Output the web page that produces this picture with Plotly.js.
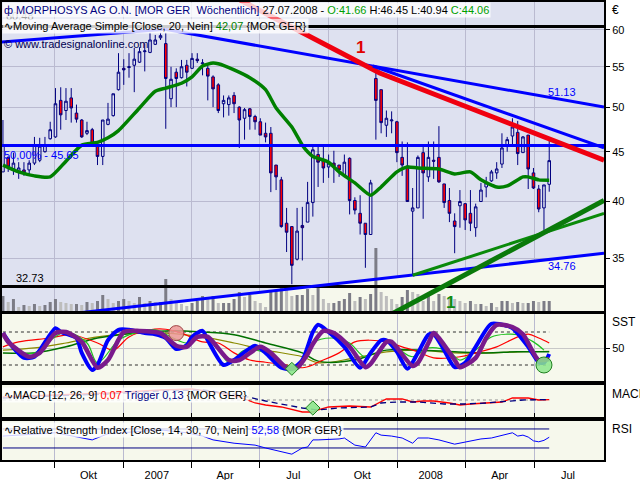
<!DOCTYPE html>
<html><head><meta charset="utf-8">
<script src="https://cdn.plot.ly/plotly-3.0.1.min.js"></script>
<style>html,body{margin:0;padding:0;background:#fff}#chart{width:640px;height:480px}</style>
</head><body><div id="chart"></div>
<script>
// ---- weekly bars (Monday of each week) ----
const dates = [
'2006-07-24','2006-07-31','2006-08-07','2006-08-14','2006-08-21','2006-08-28','2006-09-04','2006-09-11','2006-09-18','2006-09-25',
'2006-10-02','2006-10-09','2006-10-16','2006-10-23','2006-10-30','2006-11-06','2006-11-13','2006-11-20','2006-11-27','2006-12-04',
'2006-12-11','2006-12-18','2006-12-25','2007-01-01','2007-01-08','2007-01-15','2007-01-22','2007-01-29','2007-02-05','2007-02-12',
'2007-02-19','2007-02-26','2007-03-05','2007-03-12','2007-03-19','2007-03-26','2007-04-02','2007-04-09','2007-04-16','2007-04-23',
'2007-04-30','2007-05-07','2007-05-14','2007-05-21','2007-05-28','2007-06-04','2007-06-11','2007-06-18','2007-06-25','2007-07-02',
'2007-07-09','2007-07-16','2007-07-23','2007-07-30','2007-08-06','2007-08-13','2007-08-20','2007-08-27','2007-09-03','2007-09-10',
'2007-09-17','2007-09-24','2007-10-01','2007-10-08','2007-10-15','2007-10-22','2007-10-29','2007-11-05','2007-11-12','2007-11-19',
'2007-11-26','2007-12-03','2007-12-10','2007-12-17','2007-12-24','2007-12-31','2008-01-07','2008-01-14','2008-01-21','2008-01-28',
'2008-02-04','2008-02-11','2008-02-18','2008-02-25','2008-03-03','2008-03-10','2008-03-17','2008-03-24','2008-03-31','2008-04-07',
'2008-04-14','2008-04-21','2008-04-28','2008-05-05','2008-05-12','2008-05-19','2008-05-26','2008-06-02','2008-06-09','2008-06-16',
'2008-06-23','2008-06-30','2008-07-07','2008-07-14','2008-07-21'];
const open = [42.9,44.4,43.2,42.9,43.1,43.1,43.8,44.1,45.0,46.4, 46.6,50.8,49.6,51.1,49.3,48.5,47.0,47.4,45.7,44.5,
48.0,49.0,52.1,54.8,54.9,55.2,55.6,57.0,56.9,58.0, 58.9,58.1,51.0,54.3,53.6,55.2,54.8,56.0,55.4,54.8,
53.7,52.7,50.4,50.3,51.4,50.0,48.7,49.8,48.9,48.3, 47.0,47.0,43.6,42.1,38.0,37.7,34.9,37.8,38.1,39.9,
44.7,44.1,43.4,43.8,43.6,42.6,44.3,40.1,38.9,38.0, 37.0,53.5,52.1,47.9,48.4,48.3,44.4,43.5,39.1,39.4,
44.9,42.4,44.1,44.4,41.7,40.1,38.2,39.6,39.8,38.9, 37.6,40.0,41.4,42.0,42.8,43.7,45.7,46.7,47.1,44.9,
46.8,42.8,41.2,39.4,41.66];
const high = [48.5,44.5,44.9,43.9,43.9,44.1,46.6,46.5,46.6,48.3, 52.3,52.4,52.3,52.3,50.3,48.6,48.3,47.6,45.9,48.5,
50.5,51.6,56.8,56.0,56.8,57.5,57.6,58.1,59.6,59.3, 59.6,59.6,55.0,54.8,55.9,55.9,56.8,56.8,56.0,55.2,
53.9,52.9,51.4,51.4,51.8,50.1,49.9,49.9,49.1,48.7, 48.2,47.7,43.6,42.4,39.4,37.7,39.4,39.5,41.9,45.5,
45.5,45.5,44.7,45.1,43.6,44.7,44.4,40.4,40.6,38.0, 42.1,54.8,52.1,49.6,49.5,48.4,46.1,46.0,41.3,44.6,
45.5,46.1,46.1,47.8,41.7,41.3,38.9,41.1,39.8,41.1, 39.8,41.8,42.4,43.1,43.9,47.0,46.6,48.7,48.4,46.7,
46.8,43.3,41.6,41.6,46.45];
const low = [42.9,42.9,42.6,42.2,42.5,42.5,43.6,43.9,44.9,46.3, 46.5,47.4,48.5,48.2,48.2,46.5,46.8,45.7,43.6,43.6,
47.9,48.9,52.0,52.7,53.6,51.8,55.5,54.4,56.8,57.9, 58.6,47.5,50.0,50.0,53.5,52.5,54.7,55.5,53.9,50.8,
50.0,49.3,48.8,49.0,49.3,45.4,46.3,47.4,47.4,46.8, 46.0,40.9,41.1,37.6,35.5,32.9,34.8,34.8,38.1,38.6,
41.4,41.8,42.3,41.8,42.4,42.6,38.8,38.8,37.0,34.2, 37.0,46.3,47.0,46.6,47.0,43.9,42.5,40.0,33.6,39.4,
38.4,41.9,42.2,41.8,39.4,38.1,35.4,37.6,37.4,37.3, 36.8,40.0,40.4,41.9,42.2,43.3,45.0,45.5,43.6,44.9,
41.2,41.2,39.0,37.4,40.94];
const close = [45.7,43.4,43.8,43.3,42.8,43.8,45.7,45.6,45.7,47.4, 50.4,49.1,50.7,49.9,48.6,46.6,47.3,45.9,44.5,48.5,
48.6,51.6,54.3,54.6,55.0,56.0,57.0,57.1,58.6,58.6, 59.2,53.5,53.4,53.5,55.0,54.3,56.1,55.8,55.5,53.8,
52.2,49.6,50.8,51.1,50.4,48.5,49.7,48.9,48.3,46.8, 46.6,42.8,42.4,37.7,37.2,34.4,37.3,37.6,39.9,45.2,
43.9,43.3,43.8,43.5,43.1,43.9,40.1,39.2,38.0,37.0, 41.8,50.8,48.2,48.7,48.5,44.9,43.6,40.0,39.4,44.4,
42.8,44.4,44.0,41.9,39.9,38.9,37.7,40.0,38.3,38.0, 39.5,41.1,41.8,42.9,43.2,45.4,46.3,47.7,44.8,46.6,
43.2,41.3,39.3,41.6,44.06];
const volume = [15,9,12,4,6,5,7,5,6,9, 12,9,8,7,7,6,9,8,10,16, 12,8,10,12,10,8,14,8,10,9,
9,32,12,8,7,5,8,10,15,12, 15,8,8,8,12,19,14,16,10,8, 4,19,20,25,22,15,16,16,22,16,
24,12,8,8,10,12,18,10,14,12, 17,63,19,15,12,7,14,21,19,17, 10,15,10,17,15,14,12,10,8,10,
7,7,5,8,4,10,10,8,9,8, 8,10,9,10,10];

// 20-week simple moving average
const maIdx = [0,3,6,9,12,15,18,20,22,26,29,31,34,36,38,40,41,44,47,50,52,55,57,58,59,62,64,67,70,72,75,77,79,83,86,89,91,94,96,99,100,102,104];
const maVal = [43.6,42.9,42.5,42.4,44.0,45.7,46.0,46.5,47.3,49.9,51.9,52.3,52.9,53.7,55.1,55.5,55.4,54.6,53.6,52.1,49.9,47.7,45.7,45.0,44.5,43.9,42.9,41.8,40.6,41.4,42.9,43.4,43.3,43.2,42.7,42.9,42.1,41.4,41.5,42.4,42.4,42.1,42.07];

// price levels and trend lines
const levelHigh = 60.48, levelMid = 45.65, levelLow = 32.73;
const levelX = ['2006-07-20','2008-10-05'];
const upLeftX = ['2006-07-20','2007-02-25'], upLeftY = [58.3,60.1];
const trendAX = ['2007-02-25','2008-10-02'], trendAY = [60.1,50.0];
const trendBX = ['2007-11-29','2008-10-02'], trendBY = [55.1,45.4];
const redX = ['2007-06-05','2007-12-08','2008-10-02'], redY = [64.4,54.2,44.1];
const supportX = ['2006-07-20','2008-10-02'], supportY = [30.1,35.4];
const g1X = ['2008-01-21','2008-10-02'], g1Y = [33.6,38.9];
const g2X = ['2007-12-22','2008-10-02'], g2Y = [30.6,40.1];

// SST panel
const sstBlueIdx = [0,2,4,6,10,11,14,15,17,18,20,22,24,27,29,31,33,35,36,38,39,42,44,48,50,53,55,57,59,60,62,65,68,70,72,73,75,77,79,81,82,84,86,88,90,93,96,97,100,102,103,104];
const sstBlueVal = [78,51,33,35,87,80,69,42,11,20,65,84,84,78,76,69,49,56,71,82,65,20,29,55,42,15,13,29,80,93,80,53,15,42,65,65,44,13,42,75,76,47,16,24,53,95,91,87,53,25,24,40];
const sstPurpleIdx = [0,1,5,7,10,12,15,18,20,23,26,30,33,35,37,39,43,45,49,51,54,56,58,59,61,63,66,69,70,73,74,78,79,81,82,83,86,87,90,92,94,97,99,101,102,104];
const sstPurpleVal = [78,62,35,42,78,80,62,15,29,80,82,78,55,53,71,71,29,29,53,42,15,15,40,58,82,78,53,16,22,62,62,18,24,60,78,69,29,16,33,69,93,89,76,42,29,31];
const sstRedIdx = [0,3,9,13,18,21,24,28,31,34,38,41,44,47,50,54,57,59,60,64,67,70,73,76,79,82,87,90,94,98,100,102,104];
const sstRedVal = [53,62,69,75,60,47,71,84,85,78,62,60,42,29,25,20,15,20,25,42,62,65,62,53,44,33,35,42,53,71,76,69,60];
const sstGreenIdx = [0,3,6,9,12,16,18,22,25,29,32,35,38,40,43,46,50,53,57,59,63,66,69,72,75,78,81,85,87,90,93,96,98,101,103];
const sstGreenVal = [71,44,42,65,80,60,24,65,78,84,71,60,75,65,25,47,42,20,24,60,69,60,35,65,51,35,51,44,29,47,71,76,75,62,47];
const sstOliveIdx = [0,6,12,18,25,31,38,44,50,57,60,67,73,79,86,92,98,104];
const sstOliveVal = [47,51,60,71,78,78,71,60,47,35,24,33,44,47,42,42,44,45];
const sstDkGreenIdx = [0,6,12,18,25,31,38,44,50,57,60,67,73,79,86,92,98,104];
const sstDkGreenVal = [42,42,53,69,78,82,80,75,60,42,27,29,47,47,44,42,44,44];
const sstUpper = 80, sstLower = 20;
const sstSignalIdx = [33], sstSignalVal = [78];
const sstBuyIdx = [55], sstBuyVal = [13];
const sstBuy2Idx = [103], sstBuy2Val = [20];

// MACD panel
const macdIdx = [0,10,20,30,36,40,45,48,50,53,57,59,60,62,66,70,73,76,78,80,82,85,87,89,92,95,97,100,102,104];
const macdVal = [0.75,1.25,1.75,2.5,2.75,2.0,0.75,-0.75,-1.25,-1.75,-3.0,-3.0,-2.5,-1.75,-1.5,-1.75,0.25,0.25,-0.5,-0.25,-0.25,-0.75,-1.25,-1.0,-0.75,-0.5,0.5,0.5,0.0,0.07];
const trigIdx = [0,10,20,30,38,44,48,50,53,57,60,64,70,72,75,79,84,88,92,96,99,104];
const trigVal = [0.5,1.0,1.5,2.25,2.5,1.5,0.25,-0.25,-1.0,-2.0,-2.5,-2.0,-1.75,-0.75,-0.5,-0.5,-1.0,-1.0,-0.75,-0.25,0.0,0.13];
const macdSigIdx = [59], macdSigVal = [-2.0];

// RSI panel
const rsiIdx = [0,10,17,20,30,35,38,40,44,48,50,53,55,57,58,59,60,64,65,67,69,71,72,74,76,78,79,81,83,86,88,91,93,95,97,98,99,100,101,102,103,104];
const rsiVal = [55,62,47,60,68,62,55,47,40,36,30,22,17,30,32,47,47,49,51,36,32,62,57,55,51,40,51,51,47,38,43,49,51,57,62,55,57,53,45,43,46,52.58];
const rsiUpper = 70, rsiLower = 30;

// axis labels
const priceTicks = [35,40,45,50,55,60];
const quarterStarts = ['2006-10-01','2007-01-01','2007-04-01','2007-07-01','2007-10-01','2008-01-01','2008-04-01','2008-07-01'];
const quarterMids = ['2006-11-15','2007-02-14','2007-05-16','2007-08-15','2007-11-15','2008-02-14','2008-05-16','2008-08-15'];
const quarterLabels = ['Okt','2007','Apr','Jul','Okt','2008','Apr','Jul'];

// ---- build ----
const X = idx => idx.map(i => dates[i]);
const first = dates[0], last = dates[dates.length-1];
const volColors = volume.map((v,i) => (i===0 || v >= volume[i-1]) ? '#7c7c86' : '#bdbdbd');
const FONT = 'Liberation Sans, Arial, sans-serif';

const traces = [
  // cream area under the support line (base price axis)
  {x: supportX, y:[20,20], yaxis:'y', mode:'lines', line:{width:0}, hoverinfo:'skip'},
  {x: supportX, y: supportY, yaxis:'y', mode:'lines', line:{width:0}, fill:'tonexty', fillcolor:'#f6f8ec', hoverinfo:'skip'},
  // volume
  {type:'bar', x: dates, y: volume, yaxis:'y5', marker:{color: volColors, line:{width:0}}, width: 4*86400000, hoverinfo:'skip'},
  // candles
  {type:'candlestick', x: dates, open: open, high: high, low: low, close: close, yaxis:'y6',
   increasing:{line:{color:'#000080', width:1}, fillcolor:'rgba(255,255,255,0)'},
   decreasing:{line:{color:'#000080', width:1}, fillcolor:'#ff0000'}, whiskerwidth:0, hoverinfo:'skip'},
  // moving average
  {x: X(maIdx), y: maVal, yaxis:'y6', mode:'lines', line:{color:'#008000', width:3.5, shape:'spline', smoothing:0.6}},
  // levels
  {x: levelX, y:[levelHigh, levelHigh], yaxis:'y6', mode:'lines', line:{color:'#000000', width:3}},
  {x: levelX, y:[levelLow, levelLow], yaxis:'y6', mode:'lines', line:{color:'#000000', width:3}},
  {x: levelX, y:[levelMid, levelMid], yaxis:'y6', mode:'lines', line:{color:'#0000ff', width:3}},
  // trend lines
  {x: upLeftX, y: upLeftY, yaxis:'y6', mode:'lines', line:{color:'#0000ff', width:3}},
  {x: trendAX, y: trendAY, yaxis:'y6', mode:'lines', line:{color:'#0000ff', width:3}},
  {x: redX, y: redY, yaxis:'y6', mode:'lines', line:{color:'#f00010', width:5}},
  {x: trendBX, y: trendBY, yaxis:'y6', mode:'lines', line:{color:'#0000ff', width:3}},
  {x: supportX, y: supportY, yaxis:'y6', mode:'lines', line:{color:'#0000ff', width:3}},
  {x: g1X, y: g1Y, yaxis:'y6', mode:'lines', line:{color:'#0a8a0a', width:3}},
  {x: g2X, y: g2Y, yaxis:'y6', mode:'lines', line:{color:'#0a7a0a', width:5}},
  // SST
  {x:[first,last], y:[sstUpper,sstUpper], yaxis:'y2', mode:'lines', line:{color:'#303030', width:1.2, dash:'dot'}},
  {x:[first,last], y:[sstLower,sstLower], yaxis:'y2', mode:'lines', line:{color:'#303030', width:1.2, dash:'dot'}},
  {x: X(sstOliveIdx), y: sstOliveVal, yaxis:'y2', mode:'lines', line:{color:'#8a8a00', width:1.2, shape:'spline'}},
  {x: X(sstDkGreenIdx), y: sstDkGreenVal, yaxis:'y2', mode:'lines', line:{color:'#007000', width:1.5, shape:'spline'}},
  {x: X(sstRedIdx), y: sstRedVal, yaxis:'y2', mode:'lines', line:{color:'#ff0000', width:1.2, shape:'spline'}},
  {x: X(sstGreenIdx), y: sstGreenVal, yaxis:'y2', mode:'lines', line:{color:'#20c020', width:1.2, shape:'spline'}},
  {x: X(sstBlueIdx), y: sstBlueVal, yaxis:'y2', mode:'lines', line:{color:'#0000ff', width:4, shape:'spline', smoothing:0.7}},
  {x: X(sstPurpleIdx), y: sstPurpleVal, yaxis:'y2', mode:'lines', line:{color:'#7a1a8c', width:4.5, shape:'spline', smoothing:0.7}},
  {x: X(sstSignalIdx), y: sstSignalVal, yaxis:'y2', mode:'markers', marker:{size:15, color:'rgba(236,150,150,0.85)', line:{color:'#a04848', width:1}}},
  {x: X(sstBuyIdx), y: sstBuyVal, yaxis:'y2', mode:'markers', marker:{size:10, symbol:'diamond', color:'rgba(140,230,140,0.9)', line:{color:'#208020', width:1}}},
  {x: X(sstBuy2Idx), y: sstBuy2Val, yaxis:'y2', mode:'markers', marker:{size:16, color:'rgba(140,230,140,0.85)', line:{color:'#208020', width:1}}},
  // MACD
  {x:[first,last], y:[0,0], yaxis:'y3', mode:'lines', line:{color:'#909090', width:1, dash:'dot'}},
  {x: X(macdIdx), y: macdVal, yaxis:'y3', mode:'lines', line:{color:'#ff0000', width:1.3}},
  {x: X(trigIdx), y: trigVal, yaxis:'y3', mode:'lines', line:{color:'#000080', width:1.3, dash:'6px,4px'}},
  {x: X(macdSigIdx), y: macdSigVal, yaxis:'y3', mode:'markers', marker:{size:11, symbol:'diamond', color:'rgba(140,230,140,0.9)', line:{color:'#208020', width:1}}},
  // RSI
  {x:[first,last], y:[rsiUpper,rsiUpper], yaxis:'y4', mode:'lines', line:{color:'#000080', width:1}},
  {x:[first,last], y:[rsiLower,rsiLower], yaxis:'y4', mode:'lines', line:{color:'#000080', width:1}},
  {x: X(rsiIdx), y: rsiVal, yaxis:'y4', mode:'lines', line:{color:'#0000ff', width:1}}
];
traces.forEach(t => { t.xaxis = 'x'; if (!t.hoverinfo) t.hoverinfo = 'skip'; });

const D = {main:[0.3253,1], sst:[0.1725,0.3188], macd:[0.0939,0.1638], rsi:[0,0.0852]};
const priceRange = [Math.log10(30.88), Math.log10(64.1)];
const frame = {showline:true, mirror:true, linecolor:'#000', linewidth:2, zeroline:false};
const tf = {family:FONT, size:11, color:'#000'};

const layout = {
  width:640, height:480, margin:{l:2, r:36, t:2, b:20},
  paper_bgcolor:'#ffffff', plot_bgcolor:'rgba(0,0,0,0)', showlegend:false, hovermode:false,
  font:{family:FONT, size:11, color:'#000'},
  xaxis:{type:'date', range:['2006-07-22 18:00','2008-10-02'], anchor:'y4',
    tickmode:'array', tickvals: quarterMids, ticktext: quarterLabels, ticks:'outside', ticklen:4, tickcolor:'rgba(0,0,0,0)',
    showgrid:false, tickfont:tf,
    minor:{tickvals: quarterStarts, ticks:'outside', ticklen:6, tickcolor:'#000', tickwidth:1, showgrid:true, gridcolor:'#babad0', gridwidth:1},
    showline:true, mirror:'all', linecolor:'#000', linewidth:2, zeroline:false, rangeslider:{visible:false}},
  yaxis: Object.assign({domain:D.main, type:'log', range:priceRange, side:'right', tickmode:'array', tickvals:priceTicks, ticktext:priceTicks.map(String),
    ticks:'outside', ticklen:4, tickcolor:'#000', showgrid:true, gridcolor:'#babad0', tickfont:tf}, frame),
  yaxis2: Object.assign({domain:D.sst, range:[-9.1,112.7], side:'right', tickmode:'array', tickvals:[50], ticks:'outside', ticklen:4, tickcolor:'#000',
    showgrid:true, gridcolor:'#c8c8c8', tickfont:tf}, frame),
  yaxis3: Object.assign({domain:D.macd, range:[-4.25,3.75], side:'right', showticklabels:false, ticks:'', showgrid:false}, frame),
  yaxis4: Object.assign({domain:D.rsi, range:[4.7,86.8], side:'right', showticklabels:false, ticks:'', showgrid:false}, frame),
  yaxis5: {overlaying:'y', range:[0,309], visible:false},
  yaxis6: {overlaying:'y', type:'log', range:priceRange, visible:false},
  shapes:[
    {type:'rect', xref:'paper', yref:'paper', x0:0, x1:1, y0:D.main[0], y1:D.main[1], fillcolor:'#dee1f0', line:{width:0}, layer:'below'},
    {type:'rect', xref:'paper', yref:'paper', x0:0, x1:1, y0:D.sst[0], y1:D.sst[1], fillcolor:'#f6f8ec', line:{width:0}, layer:'below'},
    {type:'rect', xref:'paper', yref:'paper', x0:0, x1:1, y0:D.macd[0], y1:D.macd[1], fillcolor:'#f6f8ec', line:{width:0}, layer:'below'},
    {type:'rect', xref:'paper', yref:'paper', x0:0, x1:1, y0:D.rsi[0], y1:D.rsi[1], fillcolor:'#f6f8ec', line:{width:0}, layer:'below'}
  ],
  annotations:[
    {xref:'paper', yref:'paper', x:0.0299, y:0.9694, xanchor:'center', yanchor:'middle', text:'60.48', showarrow:false, font:{family:FONT, size:11, color:'#606060'}},
    {xref:'paper', yref:'paper', x:0, y:1.0, xanchor:'left', yanchor:'top', showarrow:false, bgcolor:'rgba(255,255,255,0.8)', borderpad:1,
     text:'<span style="color:#000080">ф MORPHOSYS AG O.N. [MOR GER &nbsp;Wöchentlich]</span> 27.07.2008 - <span style="color:#00a000">O:41.66</span> H:46.45 L:40.94 <span style="color:#00a000">C:44.06</span>', font:{family:FONT, size:11, color:'#000'}},
    {xref:'paper', yref:'paper', x:0, y:0.9651, xanchor:'left', yanchor:'top', showarrow:false, bgcolor:'rgba(255,255,255,0.8)', borderpad:1,
     text:'∿Moving Average Simple [Close, 20, Nein] <span style="color:#008000">42,07</span> {MOR GER}', font:{family:FONT, size:11, color:'#000'}},
    {xref:'paper', yref:'paper', x:0, y:0.9258, xanchor:'left', yanchor:'top', showarrow:false,
     text:'© www.tradesignalonline.com', font:{family:FONT, size:11, color:'#000050'}},
    {xref:'paper', yref:'paper', x:0.0465, y:0.3974, xanchor:'center', yanchor:'middle', showarrow:false, text:'32.73', font:{family:FONT, size:11, color:'#000'}},
    {xref:'paper', yref:'paper', x:0, y:0.6659, xanchor:'left', yanchor:'middle', showarrow:false, text:'50,00% - 45.65', font:{family:FONT, size:11, color:'#0000ff'}},
    {xref:'paper', yref:'paper', x:0.9302, y:0.8035, xanchor:'center', yanchor:'middle', showarrow:false, text:'51.13', font:{family:FONT, size:11, color:'#0000ff'}},
    {xref:'paper', yref:'paper', x:0.9302, y:0.4236, xanchor:'center', yanchor:'middle', showarrow:false, text:'34.76', font:{family:FONT, size:11, color:'#0000ff'}},
    {xref:'paper', yref:'paper', x:0.5963, y:0.9017, xanchor:'center', yanchor:'middle', showarrow:false, text:'<b>1</b>', font:{family:FONT, size:17, color:'#e00000'}},
    {xref:'paper', yref:'paper', x:0.7442, y:0.3428, xanchor:'center', yanchor:'middle', showarrow:false, text:'<b>1</b>', font:{family:FONT, size:17, color:'#108a10'}},
    {xref:'paper', yref:'paper', x:1.0199, y:0.9825, xanchor:'center', yanchor:'middle', showarrow:false, text:'€', font:{family:FONT, size:12, color:'#000'}},
    {xref:'paper', yref:'paper', x:1.01, y:0.3013, xanchor:'left', yanchor:'middle', showarrow:false, text:'SST', font:{family:FONT, size:12, color:'#000'}},
    {xref:'paper', yref:'paper', x:1.01, y:0.1441, xanchor:'left', yanchor:'middle', showarrow:false, text:'MACD', font:{family:FONT, size:12, color:'#000'}},
    {xref:'paper', yref:'paper', x:1.01, y:0.0677, xanchor:'left', yanchor:'middle', showarrow:false, text:'RSI', font:{family:FONT, size:12, color:'#000'}},
    {xref:'paper', yref:'paper', x:0, y:0.1594, xanchor:'left', yanchor:'top', showarrow:false, bgcolor:'rgba(255,255,255,0.8)', borderpad:1,
     text:'∿MACD [12, 26, 9] <span style="color:#ff0000">0,07</span> <span style="color:#000080">Trigger 0,13</span> {MOR GER}', font:{family:FONT, size:11, color:'#000'}},
    {xref:'paper', yref:'paper', x:0, y:0.083, xanchor:'left', yanchor:'top', showarrow:false, bgcolor:'rgba(255,255,255,0.8)', borderpad:1,
     text:'∿Relative Strength Index [Close, 14, 30, 70, Nein] <span style="color:#0000ff">52,58</span> {MOR GER}', font:{family:FONT, size:11, color:'#000'}}
  ]
};
Plotly.newPlot('chart', traces, layout, {staticPlot:true, displayModeBar:false});
</script></body></html>
